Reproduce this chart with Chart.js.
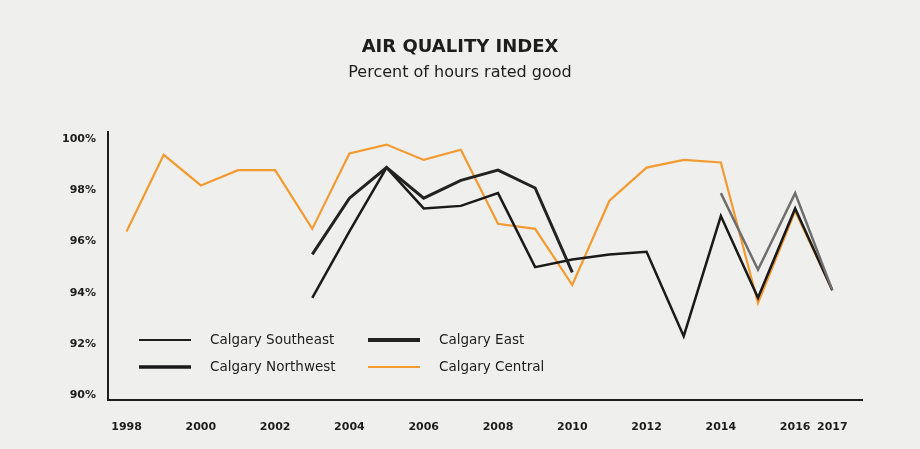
<!DOCTYPE html>
<html>
<head>
<meta charset="utf-8">
<script src="https://cdn.jsdelivr.net/npm/chart.js@4.4.0/dist/chart.umd.min.js"></script>
<style>
  html, body { margin: 0; padding: 0; background: #efefed; }
  #wrap { width: 920px; height: 449px; }
</style>
</head>
<body>
<div id="wrap"><canvas id="aqiChart"></canvas></div>
<script>
const years = [1998, 1999, 2000, 2001, 2002, 2003, 2004, 2005, 2006, 2007,
               2008, 2009, 2010, 2011, 2012, 2013, 2014, 2015, 2016, 2017];
const yearTicks = [1998, 2000, 2002, 2004, 2006, 2008, 2010, 2012, 2014, 2016, 2017];
const percentTicks = [90, 92, 94, 96, 98, 100];

// percent of hours rated good, per station (null = no data that year)
const southeast = [null, null, null, null, null, null, null, null, null, null,
                   null, null, null, null, null, null, 97.9, 94.9, 97.9, 94.1];
const east = [null, null, null, null, null, 95.5, 97.7, 98.9, 97.7, 98.4,
              98.8, 98.1, 94.8, null, null, null, null, null, null, null];
const northwest = [null, null, null, null, null, 93.8, 96.4, 98.9, 97.3, 97.4,
                   97.9, 95.0, 95.3, 95.5, 95.6, 92.3, 97.0, 93.8, 97.3, 94.1];
const central = [96.4, 99.4, 98.2, 98.8, 98.8, 96.5, 99.45, 99.8, 99.2, 99.6,
                 96.7, 96.5, 94.3, 97.6, 98.9, 99.2, 99.1, 93.6, 97.2, 94.1];

const points = vals => years.map((yr, i) => ({ x: yr, y: vals[i] })).filter(p => p.y !== null);

const INK = '#1d1d1d';
const FONT = '"DejaVu Sans", sans-serif';

// legend drawn inside the plot, two columns
const insideLegend = {
  id: 'insideLegend',
  afterDatasetsDraw(chart) {
    const { ctx, chartArea } = chart;
    const cols = [chartArea.left + 31, chartArea.left + 260];
    const rows = [chartArea.bottom - 60, chartArea.bottom - 33];
    ctx.save();
    ctx.font = '13.5px ' + FONT;
    ctx.textBaseline = 'middle';
    chart.data.datasets.forEach((ds, k) => {
      const x = cols[k % 2];
      const y = rows[Math.floor(k / 2)];
      ctx.strokeStyle = ds.legendColor || ds.borderColor;
      ctx.lineWidth = ds.legendWidth;
      ctx.beginPath();
      ctx.moveTo(x, y);
      ctx.lineTo(x + 52, y);
      ctx.stroke();
      ctx.fillStyle = INK;
      ctx.fillText(ds.label, x + 71, y);
    });
    ctx.restore();
  }
};

new Chart(document.getElementById('aqiChart'), {
  type: 'line',
  data: {
    datasets: [
      { label: 'Calgary Southeast', data: points(southeast), borderColor: '#6e6e6e',
        legendColor: INK, borderWidth: 2.5, legendWidth: 2 },
      { label: 'Calgary East', data: points(east), borderColor: '#222222',
        borderWidth: 3, legendWidth: 4 },
      { label: 'Calgary Northwest', data: points(northwest), borderColor: '#1a1a1a',
        borderWidth: 2.5, legendWidth: 3.5 },
      { label: 'Calgary Central', data: points(central), borderColor: '#f39a30',
        borderWidth: 2.2, legendWidth: 2 }
    ]
  },
  options: {
    responsive: true,
    maintainAspectRatio: false,
    animation: false,
    elements: {
      point: { radius: 0 },
      line: { tension: 0, borderJoinStyle: 'miter' }
    },
    layout: { padding: { left: 58, right: 58, top: 0, bottom: 0 } },
    plugins: {
      legend: { display: false },
      tooltip: { enabled: false },
      title: {
        display: true,
        text: 'AIR QUALITY INDEX',
        color: INK,
        font: { family: FONT, size: 18, weight: 'bold' },
        padding: { top: 37, bottom: 3 }
      },
      subtitle: {
        display: true,
        text: 'Percent of hours rated good',
        color: INK,
        font: { family: FONT, size: 16 },
        padding: { top: 2, bottom: 49 }
      }
    },
    scales: {
      x: {
        type: 'linear',
        min: 1997.5,
        max: 2017.8,
        grid: { display: false, drawTicks: false },
        border: { color: INK, width: 2 },
        afterBuildTicks: s => { s.ticks = yearTicks.map(v => ({ value: v })); },
        afterFit: s => { s.height = 49; },
        ticks: {
          color: INK,
          padding: 21,
          maxRotation: 0,
          autoSkip: false,
          font: { family: FONT, size: 11, weight: 'bold' },
          callback: v => String(v)
        }
      },
      y: {
        min: 89.8,
        max: 100.3,
        grid: { display: false, drawTicks: false },
        border: { color: INK, width: 2 },
        afterBuildTicks: s => { s.ticks = percentTicks.map(v => ({ value: v })); },
        afterFit: s => { s.width = 50; },
        ticks: {
          color: INK,
          padding: 12,
          font: { family: FONT, size: 11, weight: 'bold' },
          callback: v => v + '%'
        }
      }
    }
  },
  plugins: [insideLegend]
});
</script>
</body>
</html>
